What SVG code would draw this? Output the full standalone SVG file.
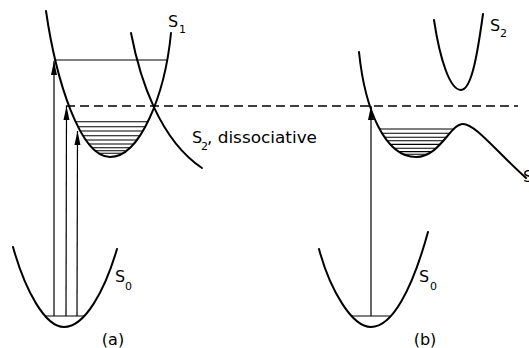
<svg xmlns="http://www.w3.org/2000/svg" width="529" height="348" viewBox="0 0 529 348">
<style>
.curve{fill:none;stroke:#000;stroke-width:2;stroke-linecap:round}
.thin{fill:none;stroke:#000;stroke-width:1.2}
.hatch{fill:none;stroke:#000;stroke-width:1.1}
.dash{fill:none;stroke:#000;stroke-width:1.3;stroke-dasharray:9,5}
.arrow{fill:none;stroke:#000;stroke-width:1.2;marker-end:url(#ah)}
text{font-family:"DejaVu Sans","Liberation Sans",sans-serif;fill:#000}
.lab{font-size:16px}
.sub{font-size:11px}
</style>
<defs>
<marker id="ah" viewBox="0 -3.5 14 7" refX="14" refY="0" markerWidth="14" markerHeight="7" markerUnits="userSpaceOnUse" orient="auto">
<path d="M0,-3 L14,0 L0,3 z" fill="#000"/>
</marker>
<clipPath id="wellA"><path d="M46,11 C56,80 80,157 110,157 C140,157 165,95 171,33 Z"/></clipPath>
<clipPath id="wellB"><path d="M359,52 C365,110 385,157 416,157 C440,157 450,124 463,124 Z"/></clipPath>
</defs>

<g id="panel-a-S1">
<path class="curve" d="M46,11 C56,80 80,157 110,157 C140,157 165,95 171,33"/>
<g clip-path="url(#wellA)">
<path class="hatch" d="M40,121.7H180M40,126.7H180M40,131H180M40,135.7H180M40,140H180M40,144H180M40,147.7H180M40,150.7H180M40,153.3H180"/>
</g>
<line class="thin" x1="54" y1="60" x2="167" y2="60"/>
<text class="lab" x="168" y="27">S</text><text class="sub" x="179" y="33">1</text>
</g>

<g id="panel-a-S2">
<path class="curve" d="M131,33 C140,80 160,140 202,168"/>
<text class="lab" x="192" y="143">S</text><text class="sub" x="201" y="150">2</text>
<text class="lab" x="207" y="143" textLength="110" lengthAdjust="spacingAndGlyphs">, dissociative</text>
</g>

<g id="panel-a-S0">
<path class="curve" d="M13,247 C25,290 45,327 64,327 C85,327 105,290 117,249"/>
<line class="thin" x1="45" y1="316" x2="85" y2="316"/>
<text class="lab" x="115" y="282">S</text><text class="sub" x="125" y="290">0</text>
<text class="lab" x="113" y="345" text-anchor="middle">(a)</text>
</g>

<g id="panel-b-S1">
<path class="curve" d="M359,52 C365,110 385,157 416,157 C440,157 450,124 463,124 C475,124 495,150 526,178"/>
<g clip-path="url(#wellB)">
<path class="hatch" d="M355,129H470M355,133.3H470M355,137.3H470M355,140.8H470M355,144.4H470M355,148.2H470M355,151.6H470M355,154.3H470"/>
</g>
<text class="lab" x="523" y="182">S</text>
</g>

<g id="panel-b-S2">
<path class="curve" d="M434,20 C440,60 450,90 461,90 C472,90 478,50 483,14"/>
<text class="lab" x="490" y="31">S</text><text class="sub" x="500" y="37">2</text>
</g>

<g id="panel-b-S0">
<path class="curve" d="M319,249 C330,290 352,327 371,327 C392,327 412,290 428,232"/>
<line class="thin" x1="352" y1="316" x2="390" y2="316"/>
<text class="lab" x="419" y="282">S</text><text class="sub" x="430" y="290">0</text>
<text class="lab" x="425" y="345" text-anchor="middle">(b)</text>
</g>

<g id="connectors">
<line class="dash" x1="66" y1="106" x2="518" y2="106"/>
<line class="arrow" x1="54" y1="316" x2="54" y2="61"/>
<line class="arrow" x1="66" y1="316" x2="66.5" y2="106"/>
<line class="arrow" x1="77" y1="316" x2="77.5" y2="131"/>
<line class="arrow" x1="371" y1="316" x2="371" y2="106"/>
</g>
</svg>
